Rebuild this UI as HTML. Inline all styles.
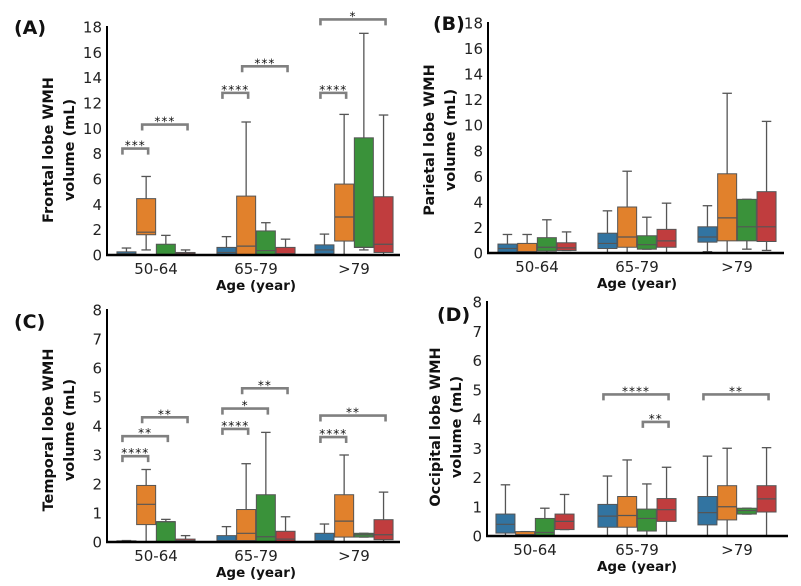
<!DOCTYPE html>
<html><head><meta charset="utf-8"><style>
html,body{margin:0;padding:0;background:#fff}
svg{display:block;font-family:"DejaVu Sans","Liberation Sans",sans-serif}
</style></head><body>
<svg id="fig" width="801" height="586" viewBox="0 0 801 586"></svg>
<script>
// ---------- data ----------
const categories = ["50-64","65-79",">79"];
const hueColors = ["#3274a1","#e1812c","#3a923a","#c03d3e"];
// each box: [whiskerLow, q1, median, q3, whiskerHigh]
const frontalBoxes = [
 [[0,0,0.1,0.25,0.55],[0.4,1.6,1.8,4.45,6.2],[0,0,0.05,0.85,1.55],[0,0,0.1,0.2,0.4]],
 [[0,0,0.2,0.6,1.45],[0,0,0.7,4.65,10.5],[0,0,0.35,1.9,2.55],[0,0,0.1,0.6,1.25]],
 [[0.1,0.1,0.4,0.8,1.65],[0,1.1,3.0,5.6,11.1],[0.4,0.6,0.6,9.25,17.5],[0,0.2,0.85,4.6,11.05]]
];
const parietalBoxes = [
 [[0,0,0.35,0.7,1.45],[0,0,0.1,0.75,1.45],[0,0.15,0.45,1.2,2.6],[0.2,0.2,0.4,0.8,1.65]],
 [[0,0.35,0.75,1.55,3.3],[0,0.45,1.25,3.6,6.4],[0.3,0.3,0.65,1.35,2.8],[0,0.45,0.95,1.85,3.9]],
 [[0.1,0.85,1.25,2.05,3.7],[0,0.95,2.75,6.2,12.5],[0.3,0.95,2.05,4.2,4.2],[0.2,0.9,2.05,4.8,10.3]]
];
const temporalBoxes = [
 [[0,0,0.02,0.04,0.05],[0,0.6,1.3,1.95,2.5],[0,0,0.7,0.7,0.78],[0,0,0.05,0.1,0.22]],
 [[0,0,0.05,0.22,0.53],[0,0.05,0.3,1.12,2.7],[0,0,0.18,1.63,3.78],[0,0,0.1,0.37,0.87]],
 [[0,0,0.05,0.3,0.62],[0,0.17,0.72,1.63,3.0],[0.17,0.17,0.25,0.3,0.3],[0,0.08,0.25,0.77,1.72]]
];
const occipitalBoxes = [
 [[0,0.1,0.4,0.75,1.75],[0,0,0.05,0.15,0.15],[0,0,0.12,0.6,0.95],[0.22,0.22,0.5,0.75,1.42]],
 [[0,0.3,0.68,1.08,2.05],[0,0.3,0.7,1.35,2.6],[0,0.17,0.6,0.92,1.78],[0,0.5,0.9,1.28,2.35]],
 [[0,0.38,0.8,1.35,2.73],[0,0.55,1.0,1.72,3.0],[0.75,0.75,0.87,0.95,0.95],[0,0.82,1.27,1.72,3.02]]
];
// brackets: [category index, hue from, hue to, y value, label]
const frontalBrackets = [[0,0,1,8.4,"***"],[0,1,3,10.3,"***"],[1,0,1,12.8,"****"],[1,1,3,14.9,"***"],[2,0,1,12.8,"****"],[2,0,3,18.6,"*"]];
const parietalBrackets = [];
const temporalBrackets = [[0,0,1,2.96,"****"],[0,0,2,3.65,"**"],[0,1,3,4.3,"**"],[1,0,1,3.9,"****"],[1,0,2,4.6,"*"],[1,1,3,5.3,"**"],[2,0,1,3.62,"****"],[2,0,3,4.36,"**"]];
const occipitalBrackets = [[1,0,3,4.84,"****"],[1,2,3,3.9,"**"],[2,0,3,4.84,"**"]];
const frontalTicks = [0,2,4,6,8,10,12,14,16,18];
const temporalTicks = [0,1,2,3,4,5,6,7,8];

// ---------- drawing ----------
const NS="http://www.w3.org/2000/svg";
const fig=document.getElementById("fig");
function mk(tag,attrs,parent){const e=document.createElementNS(NS,tag);for(const k in attrs)e.setAttribute(k,attrs[k]);(parent||fig).appendChild(e);return e;}

function drawPanel(p){
  const g=mk("g",{});
  
  
  const yScale=v=>p.y0-(v/p.ymax)*(p.y0-p.yTop);
  const xCat=i=>p.cx[i];
  const slot=19.7, bw=19;
  const xHue=(i,h)=>xCat(i)+(h-1.5)*slot;
  // tick labels
  p.ticks.forEach(t=>{
    const tl=mk("text",{x:p.ax-5,y:yScale(t)+5.5,"text-anchor":"end","font-size":"15",fill:"#222"},g);
    tl.textContent=t;
    
    
  });
  // boxes
  p.data.forEach((grp,i)=>grp.forEach((b,h)=>{
    const x=xHue(i,h);
    const bg=mk("g",{},g);
    
    
    const st="#555";
    mk("line",{x1:x,x2:x,y1:yScale(b[3]),y2:yScale(b[4]),stroke:st,"stroke-width":1.3},bg);
    mk("line",{x1:x,x2:x,y1:yScale(b[0]),y2:yScale(b[1]),stroke:st,"stroke-width":1.3},bg);
    mk("line",{x1:x-bw/4,x2:x+bw/4,y1:yScale(b[4]),y2:yScale(b[4]),stroke:st,"stroke-width":1.3},bg);
    mk("line",{x1:x-bw/4,x2:x+bw/4,y1:yScale(b[0]),y2:yScale(b[0]),stroke:st,"stroke-width":1.3},bg);
    mk("rect",{x:x-bw/2,y:yScale(b[3]),width:bw,height:Math.max(0.8,yScale(b[1])-yScale(b[3])),fill:hueColors[h],stroke:st,"stroke-width":1},bg);
    mk("line",{x1:x-bw/2,x2:x+bw/2,y1:yScale(b[2]),y2:yScale(b[2]),stroke:st,"stroke-width":1.2},bg);
  }));
  // axes
  const ya=mk("line",{x1:p.ax,x2:p.ax,y1:p.yTop-1,y2:p.y0+1,stroke:"#000","stroke-width":2},g);
  
  
  const xa=mk("line",{x1:p.ax-1,x2:p.axEnd,y1:p.y0,y2:p.y0,stroke:"#000","stroke-width":2.5},g);
  
  
  categories.forEach((c,i)=>{
    const t=mk("text",{x:xCat(i),y:p.y0+19,"text-anchor":"middle","font-size":"15",fill:"#222"},g);
    t.textContent=c;
    
    
  });
  const xt=mk("text",{x:xCat(1),y:p.y0+35,"text-anchor":"middle","font-size":"13.5","font-weight":"bold",fill:"#111"},g);
  xt.textContent="Age (year)";
  
  
  // y title
  const yt=mk("text",{transform:`translate(${p.ylx},${p.ylc}) rotate(-90)`,"text-anchor":"middle","font-size":"14.5","font-weight":"bold",fill:"#111"},g);
  
  
  const t1=mk("tspan",{x:0,dy:0},yt);t1.textContent=p.ylabel;
  const t2=mk("tspan",{x:0,dy:21},yt);t2.textContent="volume (mL)";
  // panel label
  const pl=mk("text",{x:p.lx,y:p.ly,"font-size":"19","font-weight":"bold",fill:"#111"},g);
  pl.textContent=p.label;
  
  
  // brackets
  p.brackets.forEach(br=>{
    const x1=xHue(br[0],br[1])-4, x2=xHue(br[0],br[2])+2, y=yScale(br[3]);
    const bk=mk("path",{d:`M${x1},${y+6}V${y}H${x2}V${y+6}`,fill:"none",stroke:"#808080","stroke-width":2.6},g);
    
    
    const s=mk("text",{x:(x1+x2)/2,y:y+1,"text-anchor":"middle","font-size":"12",fill:"#111","letter-spacing":"1"},g);
    s.textContent=br[4];
    
    
  });
}

drawPanel({name:"panel-a-frontal",label:"(A)",lx:14,ly:34,data:frontalBoxes,brackets:frontalBrackets,ticks:frontalTicks,ymax:18,
  ax:107,axEnd:400,y0:255,yTop:27,cx:[156,256,354],ylabel:"Frontal lobe WMH",ylx:53,ylc:150});
drawPanel({name:"panel-b-parietal",label:"(B)",lx:433,ly:30,data:parietalBoxes,brackets:parietalBrackets,ticks:frontalTicks,ymax:18,
  ax:488,axEnd:784,y0:253,yTop:23,cx:[537,637,737],ylabel:"Parietal lobe WMH",ylx:434,ylc:140});
drawPanel({name:"panel-c-temporal",label:"(C)",lx:14,ly:328,data:temporalBoxes,brackets:temporalBrackets,ticks:temporalTicks,ymax:8,
  ax:107,axEnd:400,y0:542,yTop:310,cx:[156,256,354],ylabel:"Temporal lobe WMH",ylx:53,ylc:430});
drawPanel({name:"panel-d-occipital",label:"(D)",lx:437,ly:321,data:occipitalBoxes,brackets:occipitalBrackets,ticks:temporalTicks,ymax:8,
  ax:487,axEnd:788,y0:536,yTop:302,cx:[535,637,737],ylabel:"Occipital lobe WMH",ylx:440,ylc:427});
</script>
</body></html>
